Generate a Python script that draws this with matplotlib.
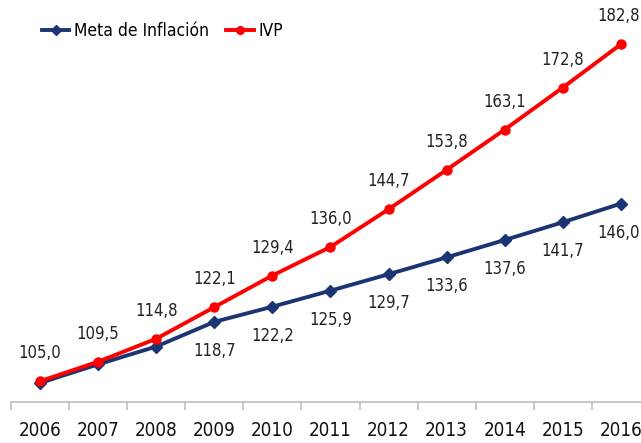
import matplotlib
matplotlib.use('Agg')
import matplotlib.pyplot as plt
from matplotlib.lines import Line2D

plt.rcParams['font.family'] = ['DejaVu Sans']
plt.rcParams['font.stretch'] = 'condensed'

# datos
anios = ['2006', '2007', '2008', '2009', '2010', '2011', '2012', '2013', '2014', '2015', '2016']
meta = [104.6, 108.9, 113.0, 118.7, 122.2, 125.9, 129.7, 133.6, 137.6, 141.7, 146.0]
ivp = [105.0, 109.5, 114.8, 122.1, 129.4, 136.0, 144.7, 153.8, 163.1, 172.8, 182.8]
meta_lbl = [None, None, None, '118,7', '122,2', '125,9', '129,7', '133,6', '137,6', '141,7', '146,0']
ivp_lbl = ['105,0', '109,5', '114,8', '122,1', '129,4', '136,0', '144,7', '153,8', '163,1', '172,8', '182,8']

azul = '#1B3473'
rojo = '#FF0000'

fig = plt.figure(figsize=(6.41, 4.43), dpi=100)
ax = fig.add_axes([11/641, 41/443, 639/641, 402/443])

x = list(range(len(anios)))
ax.plot(x, meta, color=azul, lw=2.8, marker='D', ms=6, zorder=3)
ax.plot(x, ivp, color=rojo, lw=2.8, marker='o', ms=6.5, zorder=3)

n = len(anios)
for i in x:
    dx = -2 if i == n - 1 else 0
    ax.annotate(ivp_lbl[i], (i, ivp[i]), xytext=(dx, 20), textcoords='offset points',
                ha='center', va='center', fontsize=12, color='#222222')
    if meta_lbl[i]:
        ax.annotate(meta_lbl[i], (i, meta[i]), xytext=(dx, -21), textcoords='offset points',
                    ha='center', va='center', fontsize=12, color='#222222')

ax.set_xlim(-0.5, 10.5)
ax.set_ylim(100.2, 193)
for s in ['top', 'right', 'left']:
    ax.spines[s].set_visible(False)
ax.spines['bottom'].set_color('#BFBFBF')
ax.spines['bottom'].set_linewidth(1.2)
ax.set_yticks([])
ax.set_xticks([i - 0.5 for i in range(n + 1)])
ax.set_xticklabels([])
ax.set_xticks(x, minor=True)
ax.set_xticklabels(anios, minor=True, fontsize=13.5, color='#111111')
ax.tick_params(axis='x', which='major', length=6, color='#BFBFBF', width=1.2)
ax.tick_params(axis='x', which='minor', length=0, pad=14)
ax.get_xticklabels(minor=True)[-1].set_x(9.97)

handles = [Line2D([], [], color=azul, lw=2.8, marker='D', ms=5),
           Line2D([], [], color=rojo, lw=2.8, marker='o', ms=5.5)]
fig.legend(handles, ['Meta de Inflación', 'IVP'], loc='upper left',
           bbox_to_anchor=(26/641, 1 - 6/443), ncol=2, frameon=False,
           fontsize=12.5, handlelength=1.6, handletextpad=0.25, columnspacing=1.0)

fig.savefig('out.png', dpi=100)
